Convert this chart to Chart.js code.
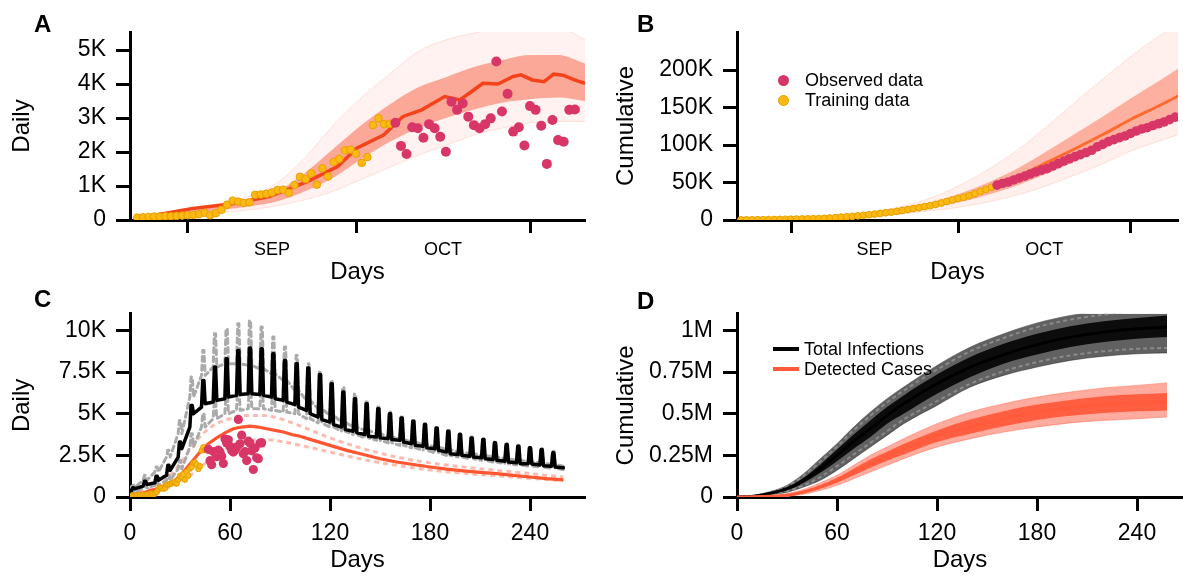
<!DOCTYPE html>
<html>
<head>
<meta charset="utf-8">
<script src="https://cdn.jsdelivr.net/npm/chart.js@4.4.1/dist/chart.umd.min.js"></script>
<style>
  html, body { margin: 0; padding: 0; background: #fff; }
  body { width: 1183px; height: 579px; position: relative; overflow: hidden;
         font-family: 'Liberation Sans', Arial, Helvetica, sans-serif; color: #000; }
  canvas { position: absolute; }
  .tag { position: absolute; font-weight: bold; font-size: 24px; line-height: 24px; }
  .legend { position: absolute; font-size: 18px; line-height: 20px; }
  .legend .row { position: relative; padding-left: 27px; white-space: nowrap; }
  .legend .dot { position: absolute; left: 0; top: 5px; width: 11px; height: 11px; border-radius: 50%; }
  .legend .bar { position: absolute; left: -4px; top: 8px; width: 26px; height: 4px; }
</style>
</head>
<body>
<canvas id="chartA" width="592" height="290" style="left:0;top:0"></canvas>
<canvas id="chartB" width="591" height="290" style="left:592px;top:0"></canvas>
<canvas id="chartC" width="592" height="289" style="left:0;top:290px"></canvas>
<canvas id="chartD" width="591" height="289" style="left:592px;top:290px"></canvas>

<div class="tag" style="left:34px;top:12px">A</div>
<div class="tag" style="left:637px;top:12px">B</div>
<div class="tag" style="left:34px;top:287px">C</div>
<div class="tag" style="left:637px;top:289px">D</div>

<div class="legend" style="left:778px;top:70px">
  <div class="row"><span class="dot" style="background:#d93668"></span>Observed data</div>
  <div class="row"><span class="dot" style="background:#fdb913;border:1px solid #e5a000;width:9px;height:9px"></span>Training data</div>
</div>
<div class="legend" style="left:777px;top:339px">
  <div class="row"><span class="bar" style="background:#000"></span>Total Infections</div>
  <div class="row"><span class="bar" style="background:#ff5a3a"></span>Detected Cases</div>
</div>

<script>
// ── Daily data (thousands), one value per day, A & C ──────────
const trainingDaily = [0.07,0.08,0.09,0.10,0.10,0.11,0.11,0.12,0.13,0.14,0.15,0.17,0.21,0.14,0.20,0.30,
  0.45,0.57,0.54,0.50,0.52,0.74,0.75,0.77,0.81,0.88,0.89,0.80,1.03,1.27,1.20,1.37,1.04,1.52,1.28,1.71,
  1.80,2.05,2.07,1.95,1.68,1.85,2.79,2.99,2.82,2.83];
const observedDaily = [2.86,2.18,1.94,2.73,2.70,2.42,2.82,2.70,2.45,2.01,3.48,3.24,3.43,3.04,2.79,2.70,
  2.82,2.99,4.66,3.19,3.71,2.60,2.73,2.19,3.35,3.24,2.77,1.65,2.94,2.35,2.30,3.24,3.25];

// cumulative (thousands), panel B
const trainingCum = [0.07,0.15,0.24,0.34,0.44,0.55,0.66,0.78,0.91,1.05,1.2,1.37,1.58,1.72,1.92,2.22,2.67,
  3.24,3.78,4.28,4.8,5.54,6.29,7.06,7.87,8.75,9.64,10.44,11.47,12.74,13.94,15.31,16.35,17.87,19.15,20.86,
  22.66,24.71,26.78,28.73,30.41,32.26,35.05,38.04,40.86,43.69];
const observedCum = [46.55,48.73,50.67,53.4,56.1,58.52,61.34,64.04,66.49,68.5,71.98,75.22,78.65,81.69,
  84.48,87.18,90.0,92.99,97.65,100.84,104.55,107.15,109.88,112.07,115.42,118.66,121.43,123.08,126.02,
  128.37,130.67,133.91,137.16];

// month axis for A & B (day index, first training day = 0)
const monthBounds = [9, 39, 70];
const monthMids = [24, 54.5];
const monthNames = ['SEP', 'OCT'];

// ── A: daily ensemble ────────────────────────────────────────
const aMedianDays = [0, 9.9, 16.7, 23.5, 30.3, 35.7, 39.1, 43.9, 47.3, 50.7, 54.8, 57.5, 59.6, 61.6, 64.3, 67.0, 68.4, 70.4, 72.5, 74.2, 75.9, 77.9, 79.8];
const aMedian     = [0.05, 0.34, 0.47, 0.69, 1.13, 1.57, 2.11, 2.5, 3.04, 3.24, 3.63, 3.53, 3.78, 4.02, 4.0, 4.22, 4.27, 4.12, 4.07, 4.29, 4.26, 4.12, 4.02];
const aBandDays   = [0, 5, 10, 15, 20, 25, 30, 35, 40, 45, 50, 55, 60, 65, 70, 75, 79.8];
const aOuterHi    = [0.1, 0.2, 0.35, 0.5, 0.7, 1.1, 1.85, 2.8, 3.6, 4.3, 4.95, 5.3, 5.5, 5.65, 5.75, 5.7, 5.3];
const aOuterLo    = [0.03, 0.08, 0.15, 0.22, 0.3, 0.42, 0.6, 0.85, 1.2, 1.55, 1.9, 2.2, 2.5, 2.7, 2.85, 2.9, 2.9];
const aInnerHi    = [0.08, 0.16, 0.28, 0.4, 0.55, 0.85, 1.4, 2.1, 2.8, 3.4, 3.9, 4.2, 4.5, 4.7, 4.85, 4.85, 4.6];
const aInnerLo    = [0.04, 0.1, 0.2, 0.3, 0.4, 0.55, 0.85, 1.25, 1.8, 2.3, 2.7, 3.0, 3.25, 3.45, 3.55, 3.6, 3.5];

// ── B: cumulative ensemble ───────────────────────────────────
const bDays    = [0, 5, 10, 15, 20, 25, 30, 35, 40, 45, 50, 55, 60, 65, 70, 75, 79];
const bMedian  = [0, 0.4, 1.3, 2.8, 5.0, 8.5, 13.5, 21, 31, 44, 59, 77, 95, 114, 134, 152, 167];
const bOuterHi = [0.1, 0.6, 1.7, 3.5, 6.5, 12, 20, 32, 49, 70, 95, 125, 157, 188, 218, 245, 262];
const bOuterLo = [0, 0.2, 0.8, 1.8, 3.2, 5.5, 9, 13, 18, 25, 34, 46, 60, 75, 92, 105, 115];
const bInnerHi = [0.05, 0.5, 1.5, 3.3, 6, 10, 16, 25, 37, 52, 70, 92, 115, 138, 162, 185, 204];
const bInnerLo = [0, 0.3, 1.0, 2.3, 4.2, 7, 11.5, 17.5, 25, 35, 47, 62, 78, 95, 113, 128, 140];

// ── C: projected daily (thousands) ───────────────────────────
const cDayOffset = 1; // training day 0 sits on day 1 of panel C
const cPeakDays = [2, 9, 16, 23, 30, 37, 44, 51, 58, 65, 72, 79, 86, 93, 100, 107, 114, 121, 128, 135, 142,
  149, 156, 163, 170, 177, 184, 191, 198, 205, 212, 219, 226, 233, 240, 247, 254];
const cTotalPeak = [0.55, 0.95, 1.25, 1.9, 3.3, 5.5, 7.0, 7.8, 8.3, 8.8, 8.95, 8.9, 8.6, 8.2, 8.0, 7.75, 7.35,
  6.8, 6.3, 5.9, 5.6, 5.3, 5.0, 4.75, 4.55, 4.35, 4.15, 3.95, 3.75, 3.55, 3.45, 3.25, 3.15, 3.05, 2.95, 2.85, 2.65];
const cTotalBefore = [0.38, 0.65, 0.85, 1.3, 2.4, 4.2, 5.4, 5.7, 5.9, 6.1, 6.2, 6.15, 6.0, 5.8, 5.55, 5.2, 4.8,
  4.5, 4.2, 3.95, 3.75, 3.6, 3.5, 3.4, 3.2, 3.05, 2.9, 2.7, 2.55, 2.45, 2.35, 2.25, 2.15, 2.05, 2.0, 1.92, 1.85];
const cTotalAfter = [0.5, 0.75, 1.0, 1.6, 2.9, 5.0, 5.6, 5.8, 6.0, 6.15, 6.2, 6.1, 5.9, 5.7, 5.4, 5.0, 4.65,
  4.35, 4.05, 3.85, 3.65, 3.55, 3.45, 3.3, 3.1, 2.95, 2.8, 2.6, 2.5, 2.4, 2.3, 2.2, 2.1, 2.0, 1.98, 1.88, 1.8];
const cTotalStart = 0.35, cTotalEnd = 1.75, cEndDay = 260;
const cUpperPeak = [0.7, 1.3, 1.8, 2.8, 4.6, 7.2, 8.8, 9.8, 10.1, 10.4, 10.6, 10.2, 9.6, 9.0, 8.5, 8.0, 7.5, 7.0,
  6.6, 6.2, 5.8, 5.4, 5.1, 4.8, 4.6, 4.4, 4.2, 4.0, 3.8, 3.6, 3.5, 3.3, 3.2, 3.1, 3.0, 2.9, 2.75];
const cUpperTrough = [0.6, 1.0, 1.5, 2.4, 3.8, 6.0, 7.3, 7.8, 8.0, 8.0, 7.9, 7.7, 7.4, 7.0, 6.4, 5.8, 5.3, 4.9,
  4.5, 4.2, 4.0, 3.8, 3.6, 3.45, 3.3, 3.15, 3.0, 2.85, 2.7, 2.6, 2.5, 2.4, 2.3, 2.2, 2.12, 2.05, 1.95];
const cLowerPeak = [0.4, 0.7, 0.9, 1.3, 2.2, 3.8, 5.0, 5.8, 6.3, 6.6, 6.8, 6.8, 6.7, 6.5, 6.4, 6.2, 5.9, 5.6,
  5.3, 5.0, 4.75, 4.5, 4.3, 4.1, 3.95, 3.8, 3.65, 3.5, 3.35, 3.2, 3.1, 3.0, 2.9, 2.8, 2.7, 2.6, 2.45];
const cLowerTrough = [0.3, 0.55, 0.7, 1.0, 1.7, 3.0, 4.2, 4.7, 5.0, 5.2, 5.3, 5.3, 5.2, 5.1, 5.0, 4.7, 4.45, 4.2,
  3.95, 3.75, 3.55, 3.4, 3.25, 3.1, 2.95, 2.8, 2.65, 2.5, 2.4, 2.3, 2.2, 2.1, 2.0, 1.92, 1.86, 1.8, 1.72];
const cCaseDays = [0, 8, 17, 22, 27, 32, 37, 42, 47, 52, 57, 62, 67, 72, 77, 82, 87, 92, 97, 102, 110, 120,
  130, 140, 150, 160, 170, 180, 190, 200, 210, 220, 230, 240, 250, 260];
const cCases = [0.15, 0.25, 0.53, 0.75, 1.0, 1.5, 2.1, 2.7, 3.2, 3.55, 3.85, 4.1, 4.2, 4.25, 4.2, 4.1, 4.0, 3.9,
  3.75, 3.65, 3.4, 3.1, 2.8, 2.55, 2.3, 2.1, 1.95, 1.8, 1.67, 1.57, 1.48, 1.4, 1.3, 1.2, 1.1, 1.03];
const cBoundDays = [0, 10, 20, 30, 40, 50, 60, 70, 80, 90, 100, 120, 140, 160, 180, 200, 220, 240, 260];
const cCasesHi = [0.2, 0.4, 0.9, 2.0, 3.4, 4.3, 4.7, 4.9, 4.9, 4.7, 4.35, 3.55, 2.9, 2.4, 2.05, 1.8, 1.6, 1.4, 1.2];
const cCasesLo = [0.1, 0.2, 0.45, 0.9, 1.6, 2.4, 3.0, 3.35, 3.45, 3.35, 3.15, 2.7, 2.25, 1.9, 1.62, 1.42, 1.27, 1.12, 0.98];

// ── D: projected cumulative (millions) ───────────────────────
const dDays = [0, 10, 20, 30, 40, 50, 60, 70, 80, 90, 100, 120, 140, 160, 180, 200, 220, 240, 258];
const dTotalMid    = [0, 0.005, 0.022, 0.05, 0.1, 0.17, 0.25, 0.335, 0.41, 0.49, 0.56, 0.68, 0.78, 0.855, 0.915, 0.96, 0.99, 1.01, 1.02];
const dTotalHi     = [0, 0.008, 0.032, 0.07, 0.14, 0.23, 0.32, 0.42, 0.51, 0.59, 0.66, 0.79, 0.9, 0.98, 1.045, 1.09, 1.12, 1.145, 1.165];
const dTotalLo     = [0, 0.003, 0.012, 0.028, 0.06, 0.1, 0.16, 0.23, 0.3, 0.37, 0.44, 0.55, 0.66, 0.73, 0.78, 0.82, 0.845, 0.86, 0.865];
const dTotalCoreHi = [0, 0.006, 0.026, 0.058, 0.115, 0.195, 0.285, 0.375, 0.46, 0.54, 0.61, 0.735, 0.84, 0.92, 0.98, 1.025, 1.055, 1.075, 1.09];
const dTotalCoreLo = [0, 0.004, 0.017, 0.04, 0.085, 0.145, 0.215, 0.29, 0.36, 0.44, 0.5, 0.62, 0.72, 0.8, 0.855, 0.9, 0.93, 0.95, 0.96];
const dTotalQHi    = [0, 0.007, 0.029, 0.064, 0.128, 0.212, 0.302, 0.4, 0.488, 0.568, 0.638, 0.765, 0.875, 0.955, 1.02, 1.065, 1.095, 1.12, 1.14];
const dTotalQLo    = [0, 0.0035, 0.014, 0.033, 0.07, 0.12, 0.185, 0.255, 0.325, 0.395, 0.465, 0.575, 0.68, 0.755, 0.81, 0.85, 0.875, 0.89, 0.895];
const dCasesMid    = [0, 0.001, 0.004, 0.01, 0.03, 0.06, 0.1, 0.15, 0.2, 0.245, 0.286, 0.365, 0.42, 0.47, 0.51, 0.535, 0.555, 0.565, 0.57];
const dCasesHi     = [0, 0.002, 0.007, 0.02, 0.045, 0.085, 0.13, 0.19, 0.25, 0.3, 0.35, 0.44, 0.51, 0.56, 0.6, 0.63, 0.655, 0.67, 0.685];
const dCasesLo     = [0, 0.0005, 0.002, 0.006, 0.017, 0.04, 0.07, 0.11, 0.15, 0.19, 0.23, 0.3, 0.35, 0.39, 0.42, 0.445, 0.46, 0.47, 0.48];
const dCasesCoreHi = [0, 0.0015, 0.005, 0.014, 0.037, 0.072, 0.115, 0.17, 0.225, 0.272, 0.318, 0.4, 0.465, 0.515, 0.555, 0.583, 0.605, 0.617, 0.625];
const dCasesCoreLo = [0, 0.0008, 0.003, 0.008, 0.024, 0.05, 0.085, 0.13, 0.175, 0.218, 0.255, 0.33, 0.38, 0.425, 0.463, 0.488, 0.505, 0.515, 0.52];
const dCasesQHi    = [0, 0.0018, 0.006, 0.017, 0.041, 0.078, 0.122, 0.18, 0.238, 0.286, 0.334, 0.42, 0.488, 0.538, 0.578, 0.607, 0.63, 0.645, 0.66];
const dCasesQLo    = [0, 0.0006, 0.0025, 0.007, 0.02, 0.045, 0.077, 0.12, 0.162, 0.204, 0.242, 0.315, 0.365, 0.407, 0.44, 0.466, 0.482, 0.492, 0.5];

// ── Colours / fonts ──────────────────────────────────────────
const OBS = '#d93668', TRAIN = '#fdb913', TRAIN_EDGE = '#e5a000';
const FONT = "'Liberation Sans', Arial, Helvetica, sans-serif";
const TICK_SIZE = 23, TITLE_SIZE = 24;
Chart.defaults.font.family = FONT;
Chart.defaults.color = '#000';

// ── helpers ──────────────────────────────────────────────────
const xy = (xs, ys) => xs.map((x, i) => ({ x, y: ys[i] }));
const daily = (vals, start) => vals.map((y, i) => ({ x: start + i, y }));

// weekly reporting spikes: base half-width and flat-top half-width, in days
const SPIKE_BASE = 1.1, SPIKE_TOP = 0.35;
function spikes(days, before, peak, after, start, end) {
    const pts = [start];
    days.forEach((d, i) => {
        pts.push({ x: d - SPIKE_BASE, y: before[i] }, { x: d - SPIKE_TOP, y: peak[i] },
                 { x: d + SPIKE_TOP, y: peak[i] }, { x: d + SPIKE_BASE, y: after[i] });
    });
    pts.push(end);
    return pts;
}

const line = (data, color, width, extra = {}) => Object.assign({
    data, borderColor: color, borderWidth: width, pointRadius: 0, fill: false, tension: 0,
}, extra);

const band = (hi, lo, color, edge) => [
    line(hi, edge, 1, { fill: '+1', backgroundColor: color, cubicInterpolationMode: 'monotone' }),
    line(lo, edge, 1, { cubicInterpolationMode: 'monotone' }),
];

const dots = (data, color, r, edge) => ({
    data, showLine: false, pointRadius: r, pointBackgroundColor: color,
    pointBorderColor: edge || color, pointBorderWidth: edge ? 1 : 0,
});

function yAxis(max, ticks, fmt, title, width, titlePad) {
    return {
        type: 'linear', min: 0, max,
        afterBuildTicks: s => { s.ticks = ticks.map(v => ({ value: v })); },
        afterFit: s => { s.width = width; },
        border: { display: true, width: 3, color: '#000' },
        grid: { display: true, drawOnChartArea: false, drawTicks: true, tickLength: 14, tickWidth: 3, tickColor: '#000' },
        ticks: { font: { size: TICK_SIZE }, color: '#000', padding: 10, callback: fmt },
        title: { display: true, text: title, font: { size: TITLE_SIZE }, color: '#000', padding: { top: titlePad, bottom: 0 } },
    };
}

function monthAxis(min, max) {
    return {
        type: 'linear', min, max,
        afterBuildTicks: s => { s.ticks = monthBounds.concat(monthMids).sort((a, b) => a - b).map(v => ({ value: v })); },
        afterFit: s => { s.height = 70; },
        border: { display: true, width: 3, color: '#000' },
        grid: {
            display: true, drawOnChartArea: false, drawTicks: true, tickLength: 13, tickWidth: 3,
            tickColor: ctx => (ctx.tick && monthMids.includes(ctx.tick.value)) ? 'rgba(0,0,0,0)' : '#000',
        },
        ticks: {
            font: { size: 18 }, color: '#000', padding: 6, autoSkip: false, maxRotation: 0,
            callback: v => { const i = monthMids.indexOf(v); return i >= 0 ? monthNames[i] : ''; },
        },
        title: { display: true, text: 'Days', font: { size: TITLE_SIZE }, color: '#000', padding: { top: 0, bottom: 3 } },
    };
}

function dayAxis(max) {
    return {
        type: 'linear', min: 0, max,
        afterBuildTicks: s => { s.ticks = [0, 60, 120, 180, 240].map(v => ({ value: v })); },
        afterFit: s => { s.height = 82; },
        border: { display: true, width: 3, color: '#000' },
        grid: { display: true, drawOnChartArea: false, drawTicks: true, tickLength: 14, tickWidth: 3, tickColor: '#000' },
        ticks: { font: { size: TICK_SIZE }, color: '#000', padding: 9, autoSkip: false, maxRotation: 0 },
        title: { display: true, text: 'Days', font: { size: TITLE_SIZE }, color: '#000', padding: { top: 0, bottom: 4 } },
    };
}

function makeChart(id, datasets, scales, padding) {
    return new Chart(document.getElementById(id).getContext('2d'), {
        type: 'line',
        data: { datasets },
        options: {
            responsive: false, animation: false, events: [],
            layout: { padding },
            plugins: { legend: { display: false }, tooltip: { enabled: false } },
            scales,
        },
    });
}

const kFmt = v => v === 0 ? '0' : v + 'K';
const mFmt = v => v === 0 ? '0' : v + 'M';
const spikeStyle = { borderJoinStyle: 'round', borderCapStyle: 'round' };

// ── Panel A ──────────────────────────────────────────────────
makeChart('chartA', [
    dots(daily(observedDaily, trainingDaily.length), OBS, 5),
    dots(daily(trainingDaily, 0), TRAIN, 3.8, TRAIN_EDGE),
    line(xy(aMedianDays, aMedian), '#f4431b', 3.5),
    ...band(xy(aBandDays, aInnerHi), xy(aBandDays, aInnerLo), 'rgba(250,95,65,0.5)', 'rgba(0,0,0,0)'),
    ...band(xy(aBandDays, aOuterHi), xy(aBandDays, aOuterLo), 'rgba(252,125,105,0.1)', 'rgba(250,150,130,0.25)'),
], {
    x: monthAxis(-1.3, 79.8),
    y: yAxis(5.53, [0, 1, 2, 3, 4, 5], kFmt, 'Daily', 130, 8),
}, { top: 32, right: 7, left: 0, bottom: 0 });

// ── Panel B ──────────────────────────────────────────────────
makeChart('chartB', [
    dots(daily(observedCum, trainingCum.length), OBS, 4.8),
    dots(daily(trainingCum, 0), TRAIN, 3.4, TRAIN_EDGE),
    line(xy(bDays, bMedian), '#ff6a2e', 3, { cubicInterpolationMode: 'monotone' }),
    ...band(xy(bDays, bInnerHi), xy(bDays, bInnerLo), 'rgba(250,100,65,0.45)', 'rgba(0,0,0,0)'),
    ...band(xy(bDays, bOuterHi), xy(bDays, bOuterLo), 'rgba(252,130,110,0.12)', 'rgba(250,150,130,0.25)'),
], {
    x: monthAxis(-0.7, 78.5),
    y: yAxis(250.7, [0, 50, 100, 150, 200], kFmt, 'Cumulative', 145, 20),
}, { top: 32, right: 0, left: 0, bottom: 0 });

// ── Panel C ──────────────────────────────────────────────────
makeChart('chartC', [
    dots(daily(observedDaily, trainingDaily.length + cDayOffset), OBS, 4.6),
    dots(daily(trainingDaily, cDayOffset), TRAIN, 2.7, TRAIN_EDGE),
    line(xy(cCaseDays, cCases), '#ff5530', 3.2),
    line(spikes(cPeakDays, cTotalBefore, cTotalPeak, cTotalAfter,
        { x: 0, y: cTotalStart }, { x: cEndDay, y: cTotalEnd }), '#000', 3.5, spikeStyle),
    line(spikes(cPeakDays, cUpperTrough, cUpperPeak, cUpperTrough,
        { x: 0, y: cUpperTrough[0] }, { x: cEndDay, y: cTotalEnd + 0.1 }), '#aaaaaa', 3,
        Object.assign({ borderDash: [5, 4] }, spikeStyle)),
    line(spikes(cPeakDays, cLowerTrough, cLowerPeak, cLowerTrough,
        { x: 0, y: cLowerTrough[0] }, { x: cEndDay, y: cTotalEnd - 0.1 }), '#aaaaaa', 3,
        Object.assign({ borderDash: [5, 4] }, spikeStyle)),
    line(xy(cBoundDays, cCasesHi), 'rgba(250,165,150,0.75)', 3, { borderDash: [5, 4], cubicInterpolationMode: 'monotone' }),
    line(xy(cBoundDays, cCasesLo), 'rgba(250,165,150,0.75)', 3, { borderDash: [5, 4], cubicInterpolationMode: 'monotone' }),
], {
    x: dayAxis(273),
    y: yAxis(11, [0, 2.5, 5, 7.5, 10], kFmt, 'Daily', 130, 8),
}, { top: 20, right: 7, left: 0, bottom: 0 });

// ── Panel D ──────────────────────────────────────────────────
const smooth = { cubicInterpolationMode: 'monotone' };
makeChart('chartD', [
    line(xy(dDays, dCasesMid), '#ff5a3a', 3, smooth),
    line(xy(dDays, dCasesQHi), 'rgba(255,175,165,0.9)', 2, Object.assign({ borderDash: [4, 3] }, smooth)),
    line(xy(dDays, dCasesQLo), 'rgba(255,175,165,0.9)', 2, Object.assign({ borderDash: [4, 3] }, smooth)),
    ...band(xy(dDays, dCasesCoreHi), xy(dDays, dCasesCoreLo), 'rgba(255,88,58,0.92)', 'rgba(0,0,0,0)'),
    ...band(xy(dDays, dCasesHi), xy(dDays, dCasesLo), 'rgba(255,100,75,0.55)', 'rgba(255,130,110,0.6)'),
    line(xy(dDays, dTotalMid), '#000', 3, smooth),
    line(xy(dDays, dTotalQHi), 'rgba(140,140,140,0.95)', 2, Object.assign({ borderDash: [4, 3] }, smooth)),
    line(xy(dDays, dTotalQLo), 'rgba(140,140,140,0.95)', 2, Object.assign({ borderDash: [4, 3] }, smooth)),
    ...band(xy(dDays, dTotalCoreHi), xy(dDays, dTotalCoreLo), 'rgba(0,0,0,0.88)', 'rgba(0,0,0,0)'),
    ...band(xy(dDays, dTotalHi), xy(dDays, dTotalLo), 'rgba(0,0,0,0.62)', 'rgba(90,90,90,0.6)'),
], {
    x: dayAxis(267.6),
    y: yAxis(1.1, [0, 0.25, 0.5, 0.75, 1], mFmt, 'Cumulative', 145, 20),
}, { top: 20, right: 0, left: 0, bottom: 0 });
</script>
</body>
</html>
